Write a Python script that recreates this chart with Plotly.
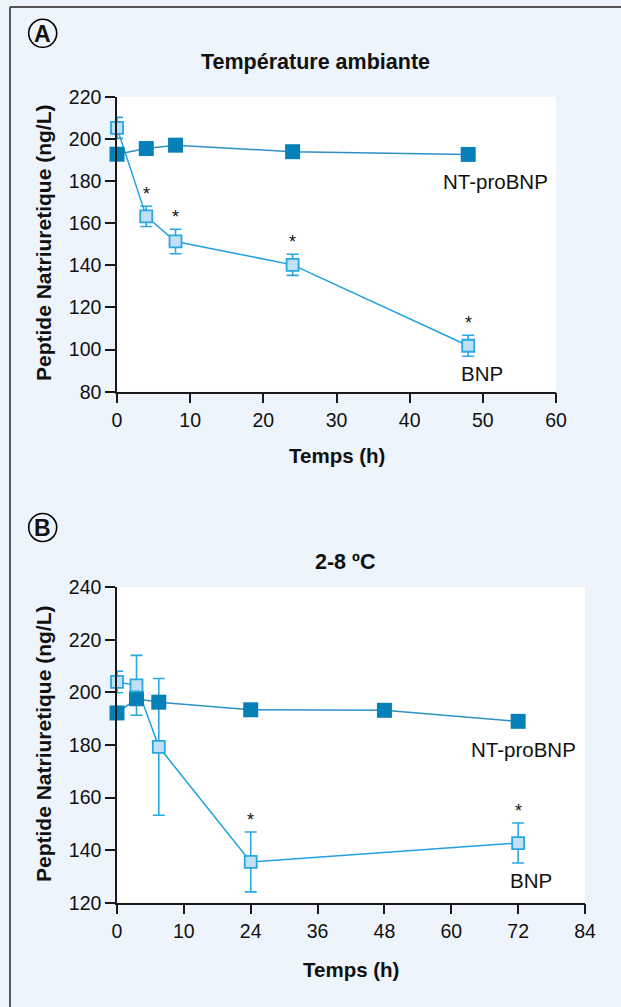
import plotly.graph_objects as go

# ---------------- data ----------------
# Panel A : room temperature
time_a = [0, 4, 8, 24, 48]
nt_a = [192.7, 195.4, 197.0, 193.9, 192.6]
bnp_a = [205.2, 163.2, 151.3, 140.2, 101.8]
bnp_a_err = [5.0, 4.8, 5.8, 5.0, 5.0]
star_a = [False, True, True, True, True]

# Panel B : 2-8 °C
time_b = [0, 3.5, 7.5, 24, 48, 72]
nt_b = [192.2, 197.6, 196.3, 193.4, 193.2, 189.0]
time_b_bnp = [0, 3.5, 7.5, 24, 72]
bnp_b = [204.0, 202.7, 179.3, 135.5, 142.7]
bnp_b_err = [4.1, 11.4, 26.0, 11.4, 7.6]
star_b = [False, False, False, True, True]

xticks_a = [0, 10, 20, 30, 40, 50, 60]
yticks_a = [80, 100, 120, 140, 160, 180, 200, 220]
xticks_b = [0, 12, 24, 36, 48, 60, 72, 84]
xticklabels_b = ["0", "10", "24", "36", "48", "60", "72", "84"]
yticks_b = [120, 140, 160, 180, 200, 220, 240]

# ---------------- style ----------------
W, H = 621, 1007
FONT = "Liberation Sans, Arial, Helvetica, sans-serif"
BG = "#EDF4FB"
NT_COL = "#0680B8"
NT_LINE = "#2E8FC4"
BNP_LINE = "#1EA2E0"
BNP_FILL = "#BFE0F5"
BNP_EDGE = "#2AA7E1"
AX_COL = "#1a1a1a"


def px(x, y):
    return x / W, 1 - y / H


fig = go.Figure()


def add_panel(xa, ya, t_nt, v_nt, t_bnp, v_bnp, e_bnp):
    # BNP line + error bars (under)
    fig.add_trace(go.Scatter(
        x=t_bnp, y=v_bnp, mode="lines", xaxis=xa, yaxis=ya,
        line=dict(color=BNP_LINE, width=1.5),
        error_y=dict(type="data", array=e_bnp, visible=True,
                     color=BNP_EDGE, thickness=1.6, width=6),
        cliponaxis=False, showlegend=False, hoverinfo="skip"))
    # NT-proBNP
    fig.add_trace(go.Scatter(
        x=t_nt, y=v_nt, mode="lines+markers", xaxis=xa, yaxis=ya,
        line=dict(color=NT_LINE, width=1.5),
        marker=dict(symbol="square", size=15, color=NT_COL,
                    line=dict(width=0)),
        cliponaxis=False, showlegend=False))
    # BNP markers (top)
    fig.add_trace(go.Scatter(
        x=t_bnp, y=v_bnp, mode="markers", xaxis=xa, yaxis=ya,
        marker=dict(symbol="square", size=12, color=BNP_FILL,
                    line=dict(color=BNP_EDGE, width=1.8)),
        cliponaxis=False, showlegend=False))


add_panel("x", "y", time_a, nt_a, time_a, bnp_a, bnp_a_err)
add_panel("x2", "y2", time_b, nt_b, time_b_bnp, bnp_b, bnp_b_err)

annotations = []


def stars(xref, yref, t, v, e, flags):
    for ti, vi, ei, f in zip(t, v, e, flags):
        if f:
            annotations.append(dict(
                x=ti, y=vi + ei, xref=xref, yref=yref, text="*",
                showarrow=False, yanchor="middle", yshift=12,
                font=dict(family=FONT, size=18, color="#111")))


stars("x", "y", time_a, bnp_a, bnp_a_err, star_a)
stars("x2", "y2", time_b_bnp, bnp_b, bnp_b_err, star_b)


def text_at(x, y, s, size=20, bold=False, angle=0):
    xx, yy = px(x, y)
    annotations.append(dict(
        x=xx, y=yy, xref="paper", yref="paper",
        text=f"<b>{s}</b>" if bold else s, showarrow=False,
        xanchor="center", yanchor="middle", textangle=angle,
        font=dict(family=FONT, size=size, color="#111")))


# titles
text_at(315.5, 62, "Température ambiante", size=21.5, bold=True)
text_at(345, 562, "2-8 ºC", size=21.5, bold=True)
# axis titles
text_at(337, 455, "Temps (h)", size=20.5, bold=True)
text_at(351, 969, "Temps (h)", size=20.5, bold=True)
text_at(43, 243, "Peptide Natriuretique (ng/L)", size=21, bold=True, angle=-90)
text_at(43, 744, "Peptide Natriuretique (ng/L)", size=21, bold=True, angle=-90)
# series labels
text_at(495.5, 182, "NT-proBNP", size=20.5)
text_at(482, 373, "BNP", size=20.5)
text_at(523, 749, "NT-proBNP", size=20.5)
text_at(530.5, 880, "BNP", size=20.5)
# panel letters
text_at(42.7, 34, "A", size=23, bold=True)
text_at(42.7, 528, "B", size=23, bold=True)

shapes = []
for cy in (33.3, 527.5):
    r = 14
    x0, y1 = px(42.7 - r, cy - r)
    x1, y0 = px(42.7 + r, cy + r)
    shapes.append(dict(type="circle", xref="paper", yref="paper",
                       x0=x0, x1=x1, y0=y0, y1=y1,
                       line=dict(color="#000", width=1.6)))
# outer frame (left + top)
lx, ty = px(10, 7)
shapes.append(dict(type="line", xref="paper", yref="paper",
                   x0=lx, x1=lx, y0=ty, y1=-0.01,
                   line=dict(color="#555", width=2)))
shapes.append(dict(type="line", xref="paper", yref="paper",
                   x0=lx, x1=1.01, y0=ty, y1=ty,
                   line=dict(color="#555", width=2)))

axis_common = dict(showline=True, linecolor=AX_COL, linewidth=1.5,
                   ticks="outside", ticklen=10, tickwidth=1.5,
                   tickcolor=AX_COL, showgrid=False, zeroline=False,
                   tickfont=dict(family=FONT, size=19.5, color="#111"),
                   automargin=False, fixedrange=True)

fig.update_layout(
    width=W, height=H,
    margin=dict(l=0, r=0, t=0, b=0),
    paper_bgcolor=BG, plot_bgcolor="white",
    showlegend=False,
    annotations=annotations, shapes=shapes,
    xaxis=dict(domain=[117 / W, 556 / W], range=[0, 60],
               tickvals=xticks_a, anchor="y", **axis_common),
    yaxis=dict(domain=[1 - 391.7 / H, 1 - 96.7 / H], range=[80, 220],
               tickvals=yticks_a, anchor="x", **axis_common),
    xaxis2=dict(domain=[117 / W, 585 / W], range=[0, 84],
                tickvals=xticks_b, ticktext=xticklabels_b, anchor="y2",
                **axis_common),
    yaxis2=dict(domain=[1 - 902.7 / H, 1 - 587.3 / H], range=[120, 240],
                tickvals=yticks_b, anchor="x2", **axis_common),
)

fig.write_html(
    "out.html",
    config={"displayModeBar": False},
    post_script=("document.body.style.margin='0';"
                 "document.body.style.padding='0';"
                 "document.body.style.overflow='hidden';"
                 "document.documentElement.style.overflow='hidden';"),
)
